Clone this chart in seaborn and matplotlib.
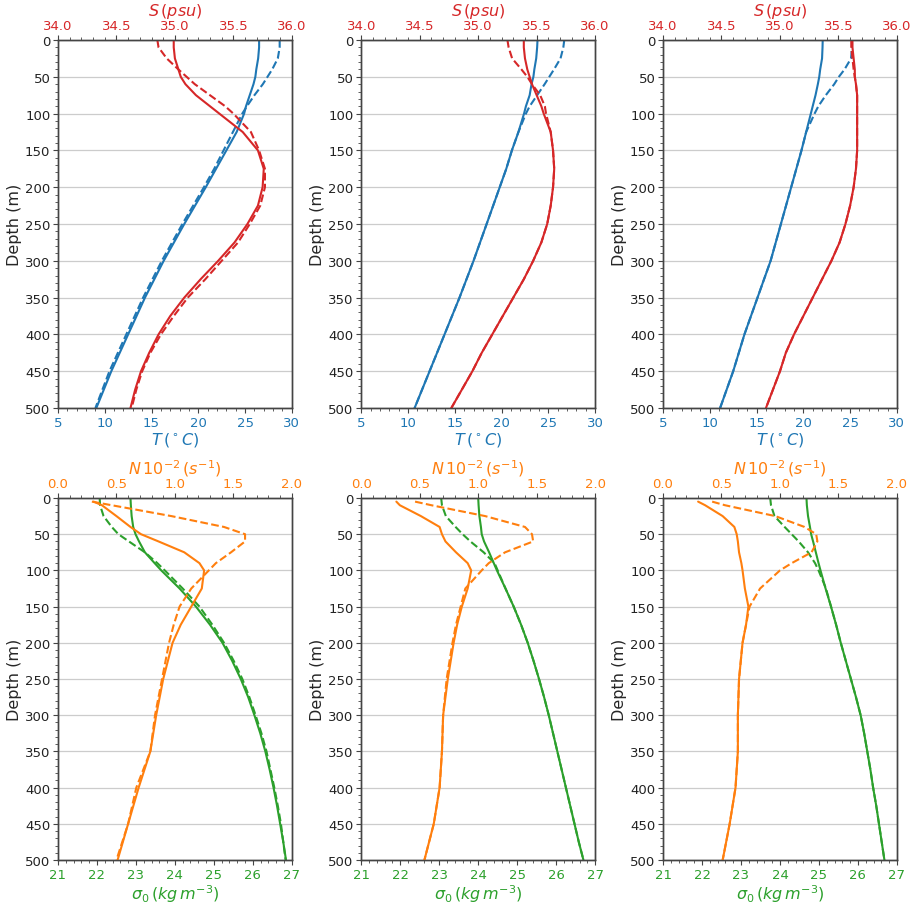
"""plot.py — T/S and sigma0/N profiles for three stations (solid vs dashed)."""
import matplotlib
matplotlib.use("Agg")
import matplotlib.pyplot as plt
import numpy as np
import seaborn as sns
from matplotlib.ticker import AutoMinorLocator, MultipleLocator

sns.set_theme(style="ticks", context="notebook")
plt.rcParams["font.family"] = ["DejaVu Sans"]

# depth levels (m)
DEPTH = [0, 10, 25, 40, 50, 60, 75, 90, 100, 125, 150, 175, 200,
         225, 250, 275, 300, 325, 350, 375, 400, 425, 450, 475, 500]
N_DEPTH = [5, 10, 25, 40, 50, 60, 75, 90, 100, 125, 150, 175, 200,
           225, 250, 275, 300, 325, 350, 375, 400, 425, 450, 475, 500]

# --- temperature (deg C) ---
T_SOLID = [
    [26.5, 26.5, 26.4, 26.2, 26.1, 25.9, 25.5, 25.1, 24.9, 24.1, 23.0, 21.9, 20.8,
     19.65, 18.5, 17.4, 16.3, 15.3, 14.3, 13.4, 12.5, 11.6, 10.7, 9.9, 9.1],
    [23.84, 23.8, 23.7, 23.5, 23.4, 23.2, 23.0, 22.6, 22.4, 21.8, 21.1, 20.5, 19.8,
     19.1, 18.4, 17.7, 17.0, 16.25, 15.5, 14.7, 13.9, 13.1, 12.3, 11.5, 10.7],
    [22.07, 22.05, 22.0, 21.8, 21.7, 21.55, 21.3, 21.0, 20.8, 20.3, 19.8, 19.25, 18.7,
     18.15, 17.6, 17.05, 16.5, 15.8, 15.1, 14.4, 13.7, 13.1, 12.5, 11.8, 11.1],
]
T_DASHED = [
    [28.7, 28.7, 28.5, 27.9, 27.4, 26.9, 26.0, 25.2, 24.7, 23.7, 22.7, 21.7, 20.6,
     19.45, 18.3, 17.2, 16.1, 15.1, 14.1, 13.2, 12.3, 11.4, 10.5, 9.75, 9.0],
    [26.7, 26.6, 26.3, 25.6, 25.1, 24.6, 23.8, 23.0, 22.6, 21.8, 21.1, 20.5, 19.8,
     19.1, 18.4, 17.7, 17.0, 16.25, 15.5, 14.7, 13.9, 13.1, 12.3, 11.5, 10.7],
    [25.2, 25.2, 25.1, 24.4, 23.8, 23.3, 22.4, 21.6, 21.2, 20.3, 19.8, 19.25, 18.7,
     18.15, 17.6, 17.05, 16.5, 15.8, 15.1, 14.4, 13.7, 13.1, 12.5, 11.8, 11.1],
]

# --- salinity (psu) ---
S_SOLID = [
    [34.99, 34.99, 35.0, 35.03, 35.05, 35.09, 35.18, 35.30, 35.38, 35.58, 35.71, 35.76, 35.75,
     35.71, 35.62, 35.51, 35.37, 35.22, 35.08, 34.96, 34.86, 34.78, 34.71, 34.66, 34.62],
    [35.39, 35.39, 35.40, 35.42, 35.44, 35.46, 35.50, 35.54, 35.56, 35.62, 35.64, 35.65, 35.64,
     35.62, 35.59, 35.54, 35.47, 35.39, 35.30, 35.21, 35.12, 35.03, 34.95, 34.86, 34.77],
    [35.62, 35.62, 35.63, 35.64, 35.64, 35.65, 35.66, 35.66, 35.66, 35.66, 35.66, 35.65, 35.63,
     35.60, 35.56, 35.51, 35.44, 35.36, 35.28, 35.20, 35.12, 35.05, 35.00, 34.94, 34.88],
]
S_DASHED = [
    [34.85, 34.86, 34.93, 35.03, 35.10, 35.17, 35.30, 35.43, 35.50, 35.65, 35.72, 35.77, 35.77,
     35.73, 35.64, 35.54, 35.40, 35.26, 35.11, 34.99, 34.88, 34.79, 34.72, 34.67, 34.63],
    [35.25, 35.26, 35.29, 35.37, 35.42, 35.46, 35.53, 35.57, 35.58, 35.62, 35.64, 35.65, 35.64,
     35.62, 35.59, 35.54, 35.47, 35.39, 35.30, 35.21, 35.12, 35.03, 34.95, 34.86, 34.77],
    [35.61, 35.61, 35.62, 35.63, 35.64, 35.65, 35.66, 35.66, 35.66, 35.66, 35.66, 35.65, 35.63,
     35.60, 35.56, 35.51, 35.44, 35.36, 35.28, 35.20, 35.12, 35.05, 35.00, 34.94, 34.88],
]

# --- potential density anomaly (kg m-3) ---
SIG_SOLID = [
    [22.86, 22.87, 22.89, 22.93, 22.99, 23.08, 23.23, 23.48, 23.65, 24.12, 24.54, 24.90, 25.22,
     25.47, 25.69, 25.88, 26.04, 26.19, 26.32, 26.43, 26.53, 26.62, 26.70, 26.78, 26.85],
    [24.0, 24.01, 24.03, 24.07, 24.09, 24.15, 24.28, 24.40, 24.48, 24.70, 24.91, 25.10, 25.27,
     25.42, 25.56, 25.69, 25.81, 25.92, 26.03, 26.14, 26.25, 26.36, 26.47, 26.58, 26.70],
    [24.68, 24.69, 24.72, 24.77, 24.80, 24.85, 24.92, 24.99, 25.04, 25.17, 25.31, 25.44, 25.56,
     25.69, 25.82, 25.95, 26.07, 26.16, 26.24, 26.32, 26.39, 26.47, 26.54, 26.61, 26.68],
]
SIG_DASHED = [
    [22.07, 22.08, 22.17, 22.38, 22.55, 22.82, 23.23, 23.55, 23.74, 24.20, 24.63, 24.96, 25.26,
     25.51, 25.73, 25.91, 26.07, 26.22, 26.35, 26.45, 26.55, 26.64, 26.72, 26.78, 26.84],
    [23.05, 23.07, 23.17, 23.42, 23.60, 23.80, 24.14, 24.42, 24.50, 24.70, 24.91, 25.10, 25.27,
     25.42, 25.56, 25.69, 25.81, 25.92, 26.03, 26.14, 26.25, 26.36, 26.47, 26.58, 26.70],
    [23.75, 23.77, 23.86, 24.12, 24.30, 24.48, 24.72, 24.90, 24.99, 25.18, 25.31, 25.44, 25.56,
     25.69, 25.82, 25.95, 26.07, 26.16, 26.24, 26.32, 26.39, 26.47, 26.54, 26.61, 26.68],
]

# --- buoyancy frequency (1e-2 s-1) ---
N_SOLID = [
    [0.305, 0.376, 0.50, 0.62, 0.71, 0.86, 1.08, 1.21, 1.25, 1.23, 1.14, 1.05, 0.98,
     0.94, 0.90, 0.87, 0.84, 0.815, 0.79, 0.74, 0.69, 0.645, 0.60, 0.555, 0.51],
    [0.30, 0.33, 0.51, 0.67, 0.69, 0.72, 0.81, 0.91, 0.94, 0.91, 0.86, 0.82, 0.79,
     0.765, 0.74, 0.72, 0.70, 0.695, 0.69, 0.68, 0.67, 0.645, 0.62, 0.58, 0.54],
    [0.30, 0.36, 0.51, 0.61, 0.63, 0.64, 0.65, 0.67, 0.68, 0.70, 0.73, 0.71, 0.68,
     0.665, 0.65, 0.645, 0.64, 0.64, 0.64, 0.63, 0.62, 0.595, 0.57, 0.54, 0.51],
]
N_DASHED = [
    [0.29, 0.46, 0.97, 1.42, 1.60, 1.60, 1.48, 1.35, 1.29, 1.14, 1.04, 0.99, 0.95,
     0.92, 0.89, 0.86, 0.83, 0.81, 0.79, 0.73, 0.67, 0.635, 0.60, 0.55, 0.50],
    [0.46, 0.60, 1.06, 1.40, 1.46, 1.47, 1.23, 1.09, 1.03, 0.89, 0.85, 0.81, 0.78,
     0.755, 0.73, 0.715, 0.70, 0.695, 0.69, 0.68, 0.67, 0.645, 0.62, 0.58, 0.54],
    [0.42, 0.53, 0.96, 1.21, 1.31, 1.32, 1.27, 1.10, 1.00, 0.83, 0.74, 0.71, 0.68,
     0.665, 0.65, 0.645, 0.64, 0.64, 0.64, 0.63, 0.62, 0.595, 0.57, 0.54, 0.51],
]

C_T, C_S, C_N, C_SIG = "tab:blue", "tab:red", "tab:orange", "tab:green"
SPINE = "#444444"

LEFTS = [0.0637, 0.397, 0.7286]
WIDTH = 0.257
ROWS = [(0.547, 0.4076), (0.0465, 0.4009)]  # (bottom, height)


def style_axis(ax, twin, bottom_color, top_color):
    ax.set_ylim(500, 0)
    ax.yaxis.set_major_locator(MultipleLocator(50))
    ax.yaxis.set_minor_locator(AutoMinorLocator(5))
    ax.xaxis.set_minor_locator(AutoMinorLocator(5))
    twin.xaxis.set_minor_locator(AutoMinorLocator(5))
    ax.grid(axis="y", color="#cccccc", linewidth=0.9)
    ax.grid(axis="x", visible=False)
    for a in (ax, twin):
        a.tick_params(which="major", length=3.5, width=0.8, color=SPINE, labelsize=9.5, pad=2)
        a.tick_params(which="minor", length=2, width=0.6, color=SPINE)
        a.tick_params(axis="y", which="both", right=False, labelright=False)
    ax.tick_params(axis="x", which="both", labelcolor=bottom_color)
    ax.tick_params(axis="y", labelcolor="#222222")
    twin.tick_params(axis="x", which="both", labelcolor=top_color)
    twin.yaxis.set_visible(False)
    for a in (ax, twin):
        for sp in a.spines.values():
            sp.set_color(SPINE)
            sp.set_linewidth(1.0)
    ax.set_ylabel("Depth (m)", fontsize=11.5, labelpad=2)


fig = plt.figure(figsize=(9.1, 9.03), dpi=100)

for i in range(3):
    # top row: temperature (bottom axis) and salinity (top axis)
    b, h = ROWS[0]
    ax = fig.add_axes([LEFTS[i], b, WIDTH, h])
    tw = ax.twiny()
    sns.lineplot(x=T_SOLID[i], y=DEPTH, orient="y", ax=ax, color=C_T, lw=1.5)
    sns.lineplot(x=T_DASHED[i], y=DEPTH, orient="y", ax=ax, color=C_T, lw=1.5, linestyle="--")
    sns.lineplot(x=S_SOLID[i], y=DEPTH, orient="y", ax=tw, color=C_S, lw=1.5)
    sns.lineplot(x=S_DASHED[i], y=DEPTH, orient="y", ax=tw, color=C_S, lw=1.5, linestyle="--")
    ax.set_xlim(5, 30)
    ax.set_xticks([5, 10, 15, 20, 25, 30])
    tw.set_xlim(34.0, 36.0)
    tw.set_xticks([34.0, 34.5, 35.0, 35.5, 36.0])
    tw.set_xticklabels(["34.0", "34.5", "35.0", "35.5", "36.0"])
    ax.set_xlabel(r"$T\,(^\circ C)$", color=C_T, fontsize=11.5, labelpad=1)
    tw.set_xlabel(r"$S\,(psu)$", color=C_S, fontsize=11.5, labelpad=3)
    style_axis(ax, tw, C_T, C_S)
    tw.set_ylim(500, 0)

    # bottom row: sigma0 (bottom axis) and N (top axis)
    b, h = ROWS[1]
    ax = fig.add_axes([LEFTS[i], b, WIDTH, h])
    tw = ax.twiny()
    sns.lineplot(x=SIG_SOLID[i], y=DEPTH, orient="y", ax=ax, color=C_SIG, lw=1.5)
    sns.lineplot(x=SIG_DASHED[i], y=DEPTH, orient="y", ax=ax, color=C_SIG, lw=1.5, linestyle="--")
    sns.lineplot(x=N_SOLID[i], y=N_DEPTH, orient="y", ax=tw, color=C_N, lw=1.5)
    sns.lineplot(x=N_DASHED[i], y=N_DEPTH, orient="y", ax=tw, color=C_N, lw=1.5, linestyle="--")
    ax.set_xlim(21, 27)
    ax.set_xticks(np.arange(21, 28))
    tw.set_xlim(0.0, 2.0)
    tw.set_xticks([0.0, 0.5, 1.0, 1.5, 2.0])
    tw.set_xticklabels(["0.0", "0.5", "1.0", "1.5", "2.0"])
    ax.set_xlabel(r"$\sigma_0\,(kg\,m^{-3})$", color=C_SIG, fontsize=11.5, labelpad=1)
    tw.set_xlabel(r"$N\,10^{-2}\,(s^{-1})$", color=C_N, fontsize=11.5, labelpad=3)
    style_axis(ax, tw, C_SIG, C_N)
    tw.set_ylim(500, 0)

fig.savefig("out.png", dpi=100)
